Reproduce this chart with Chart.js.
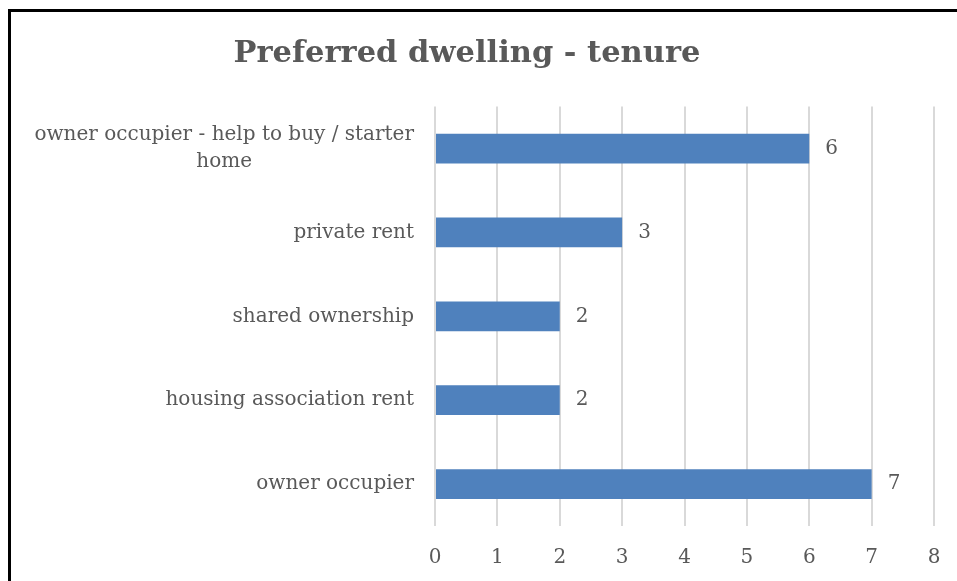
<!DOCTYPE html>
<html>
<head>
<meta charset="utf-8">
<script src="https://cdn.jsdelivr.net/npm/chart.js@4.4.1/dist/chart.umd.min.js"></script>
<style>
  html, body { margin: 0; padding: 0; background: #fff; overflow: hidden; }
  #wrap { position: relative; width: 957px; height: 581px; }
  #frame {
    position: absolute; left: 8px; top: 9px; width: 1000px; height: 700px;
    border-left: 3px solid #000; border-top: 3px solid #000; pointer-events: none;
  }
</style>
</head>
<body>
<div id="wrap">
  <canvas id="chart-tenure" width="957" height="581"></canvas>
  <div id="frame"></div>
</div>
<script>
// ===== DADOS =====
const categories = [
    ['owner occupier - help to buy / starter', 'home'],
    'private rent',
    'shared ownership',
    'housing association rent',
    'owner occupier'
];
const counts = [6, 3, 2, 2, 7];
const xTicks = [0, 1, 2, 3, 4, 5, 6, 7, 8];

const FONT = '"DejaVu Serif", "Liberation Serif", serif';
const TEXT = '#595959';
const BAR = '#4f81bd';
const AXIS_LEFT = 435;

// rótulos das categorias: bloco alinhado à direita, linhas centradas entre si
const categoryLabels = {
    id: 'categoryLabels',
    afterDraw(chart) {
        const { ctx, scales: { y } } = chart;
        ctx.save();
        ctx.font = '20px ' + FONT;
        ctx.fillStyle = TEXT;
        ctx.textBaseline = 'middle';
        ctx.textAlign = 'center';
        const right = chart.chartArea.left - 21;
        categories.forEach((cat, i) => {
            const lines = Array.isArray(cat) ? cat : [cat];
            const w = Math.max(...lines.map(l => ctx.measureText(l).width));
            const cx = right - w / 2;
            const lh = 27;
            const y0 = y.getPixelForValue(i) - (lines.length - 1) * lh / 2;
            lines.forEach((l, k) => ctx.fillText(l, cx, y0 + k * lh));
        });
        ctx.restore();
    }
};

// valores ao fim de cada barra
const valueLabels = {
    id: 'valueLabels',
    afterDatasetsDraw(chart) {
        const { ctx } = chart;
        const meta = chart.getDatasetMeta(0);
        ctx.save();
        ctx.font = '20px ' + FONT;
        ctx.fillStyle = TEXT;
        ctx.textBaseline = 'middle';
        ctx.textAlign = 'left';
        meta.data.forEach((bar, i) => {
            ctx.fillText(String(counts[i]), bar.x + 16, bar.y);
        });
        ctx.restore();
    }
};

new Chart(document.getElementById('chart-tenure'), {
    type: 'bar',
    data: {
        labels: categories,
        datasets: [{
            label: 'tenure',
            data: counts,
            backgroundColor: BAR,
            borderWidth: 0,
            barPercentage: 0.355,
            categoryPercentage: 1
        }]
    },
    options: {
        indexAxis: 'y',
        responsive: false,
        animation: false,
        layout: { padding: { left: 0, right: 23, top: 0, bottom: 9 } },
        plugins: {
            legend: { display: false },
            tooltip: { enabled: false },
            title: {
                display: true,
                text: 'Preferred dwelling - tenure',
                color: TEXT,
                font: { family: FONT, size: 30.5, weight: 'bold', lineHeight: 1.2 },
                padding: { top: 36, bottom: 34 }
            }
        },
        scales: {
            x: {
                min: xTicks[0],
                max: xTicks[xTicks.length - 1],
                afterBuildTicks: scale => { scale.ticks = xTicks.map(v => ({ value: v })); },
                afterFit: scale => {
                    scale.height = 46;
                    scale.paddingLeft = 0;
                    scale.paddingRight = 0;
                },
                grid: { color: '#d9d9d9', lineWidth: 2, drawTicks: false },
                border: { display: false },
                ticks: { color: TEXT, padding: 20, font: { family: FONT, size: 20 } }
            },
            y: {
                grid: { display: false },
                border: { display: false },
                ticks: { display: false },
                afterFit: scale => { scale.width = AXIS_LEFT; }
            }
        }
    },
    plugins: [categoryLabels, valueLabels]
});
</script>
</body>
</html>
